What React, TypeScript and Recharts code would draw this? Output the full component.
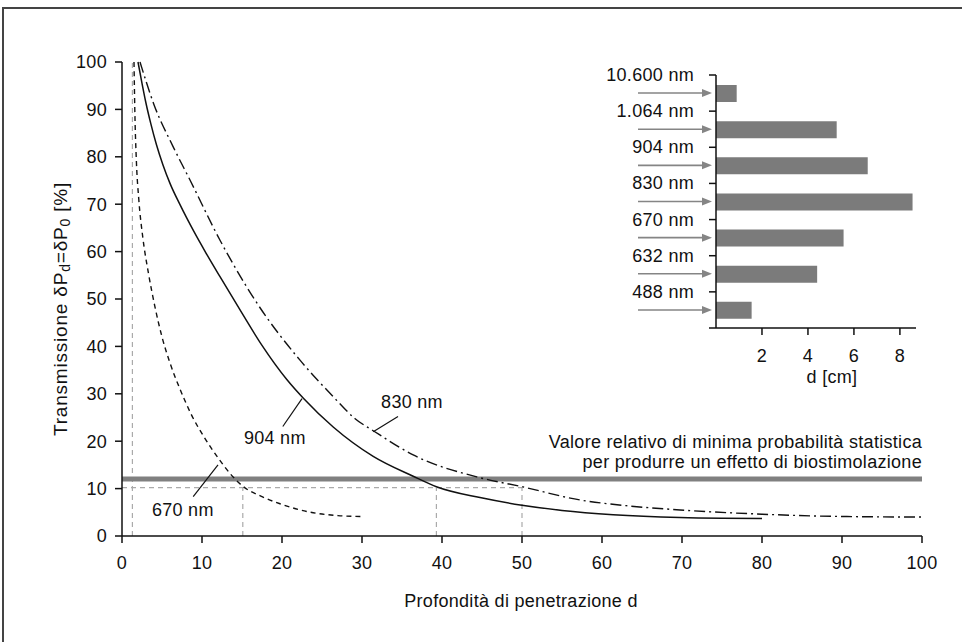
import { Bar, BarChart, Line, LineChart, ReferenceDot, ReferenceLine, XAxis, YAxis } from 'recharts'

const FONT = '"Liberation Sans", Arial, Helvetica, sans-serif'
const INK = '#111'

// curva 670 nm (tratteggiata)
const depth670 = [1.5, 1.6, 1.8, 2.1, 2.6, 3.3, 4.1, 5, 6, 7.25, 8.7, 10.4, 12, 13.5, 15.1, 17.5, 19.75, 23.9, 27, 30]
const trans670 = [100, 90, 79, 71, 63, 55.5, 48.5, 42, 36.5, 31, 25.5, 20.5, 16.5, 13.2, 10.5, 8.3, 6.8, 4.9, 4.3, 4.1]

// curva 904 nm (continua)
const depth904 = [2, 2.5, 3, 3.6, 4.3, 5.1, 6, 7.25, 9, 10.5, 12.25, 15, 17.5, 20.6, 22.7, 26.4, 31.4, 36.4, 39.3, 44.75, 50, 55, 61.4, 69.75, 75, 80]
const trans904 = [100, 95.5, 91.3, 87, 82.6, 78.4, 74.4, 69.9, 64.2, 59.7, 54.7, 47, 40.2, 33, 29, 23, 16.8, 12.6, 10.4, 8.1, 6.5, 5.4, 4.5, 3.9, 3.75, 3.7]

// curva 830 nm (tratto-punto)
const depth830 = [2.25, 4, 6.4, 8.5, 12.25, 17, 22.25, 26.4, 29.1, 31.6, 36.4, 44.75, 50, 57.25, 63, 69.75, 80, 90.6, 100]
const trans830 = [100, 91, 82.1, 75.1, 62.4, 48.8, 37.1, 29.4, 24.8, 22.0, 17.1, 12.3, 10.4, 7.6, 6.4, 5.5, 4.6, 4.1, 4.0]

const X_TICKS = [0, 10, 20, 30, 40, 50, 60, 70, 80, 90, 100]
const Y_TICKS = [0, 10, 20, 30, 40, 50, 60, 70, 80, 90, 100]

const THRESHOLD = 12
const TEN_PERCENT = 10.2
const START_X = 1.3
const CROSS_X = [15.1, 39.3, 50]

// inserto: profondità di penetrazione per lunghezza d'onda
const waveLabels = ['10.600 nm', '1.064 nm', '904 nm', '830 nm', '670 nm', '632 nm', '488 nm']
const waveDepth = [0.9, 5.25, 6.6, 8.55, 5.55, 4.4, 1.55]
const INSET_TICKS = [2, 4, 6, 8]

const toRows = (xs: number[], ys: number[]) => xs.map((x, i) => ({ x, t: ys[i] }))
const rows670 = toRows(depth670, trans670)
const rows904 = toRows(depth904, trans904)
const rows830 = toRows(depth830, trans830)
const insetRows = waveLabels.map((label, i) => ({ label, depth: waveDepth[i] }))

const INSET_W = 340
const INSET_H = 340
const INSET_MARGIN = { top: 15, right: 24, bottom: 12, left: 6 }
const INSET_YAXIS_W = 110
const INSET_XAXIS_H = 60
const INSET_AXIS_X = INSET_MARGIN.left + INSET_YAXIS_W
const INSET_BAND = (INSET_H - INSET_MARGIN.top - INSET_MARGIN.bottom - INSET_XAXIS_H) / waveLabels.length

function InsetTick(props: any) {
  const { y, payload, index } = props
  const top = y - INSET_BAND / 2
  const last = index === waveLabels.length - 1
  return (
    <g>
      <line x1={INSET_AXIS_X - 7} x2={INSET_AXIS_X} y1={top} y2={top} stroke={INK} strokeWidth={1.5} />
      {last && (
        <line x1={INSET_AXIS_X - 7} x2={INSET_AXIS_X} y1={y + INSET_BAND / 2} y2={y + INSET_BAND / 2} stroke={INK} strokeWidth={1.5} />
      )}
      <text x={INSET_AXIS_X - 22} y={top} textAnchor="end" dominantBaseline="central" fontSize={18} fill={INK}>
        {payload.value}
      </text>
      <line x1={38} x2={103} y1={y} y2={y} stroke="#858585" strokeWidth={1.6} />
      <polygon points={`${INSET_AXIS_X - 4},${y} ${INSET_AXIS_X - 14},${y - 4} ${INSET_AXIS_X - 14},${y + 4}`} fill="#858585" />
    </g>
  )
}

export default function App() {
  const axisProps = {
    stroke: INK,
    strokeWidth: 1.5,
    tick: { fill: INK, fontSize: 18 },
    tickSize: 7,
  }
  return (
    <div style={{ position: 'absolute', left: 0, top: 0, width: 962, height: 642, background: '#fff', fontFamily: FONT, letterSpacing: '0.3px', overflow: 'hidden' }}>
      <div style={{ position: 'absolute', left: 2, top: 7, width: 980, height: 660, borderLeft: '2px solid #444', borderTop: '2px solid #444' }} />

      <div style={{ position: 'absolute', left: 0, top: 0 }}>
        <LineChart width={962} height={642} margin={{ top: 62, right: 40, bottom: 76, left: 62 }}>
          <XAxis type="number" dataKey="x" domain={[0, 100]} ticks={X_TICKS} height={30} tickMargin={13} {...axisProps} />
          <YAxis type="number" domain={[0, 100]} ticks={Y_TICKS} width={60} tickMargin={8} {...axisProps} />

          <ReferenceLine segment={[{ x: START_X, y: 0 }, { x: START_X, y: 100 }]} stroke="#aaa" strokeDasharray="5 4" strokeWidth={1.2} />
          <ReferenceLine segment={[{ x: 0, y: TEN_PERCENT }, { x: 50, y: TEN_PERCENT }]} stroke="#aaa" strokeDasharray="5 4" strokeWidth={1.2} />
          {CROSS_X.map((cx) => (
            <ReferenceLine key={cx} segment={[{ x: cx, y: 0 }, { x: cx, y: TEN_PERCENT }]} stroke="#aaa" strokeDasharray="5 4" strokeWidth={1.2} />
          ))}
          <ReferenceLine y={THRESHOLD} stroke="#808080" strokeWidth={5} />

          <Line data={rows670} dataKey="t" type="monotone" dot={false} stroke={INK} strokeWidth={1.4} strokeDasharray="5 4" isAnimationActive={false} />
          <Line data={rows904} dataKey="t" type="monotone" dot={false} stroke={INK} strokeWidth={1.5} isAnimationActive={false} />
          <Line data={rows830} dataKey="t" type="monotone" dot={false} stroke={INK} strokeWidth={1.4} strokeDasharray="11 4 2 4" isAnimationActive={false} />

          {/* linee di richiamo */}
          <ReferenceLine segment={[{ x: 22.5, y: 29.0 }, { x: 20.1, y: 23.1 }]} stroke={INK} strokeWidth={1.2} />
          <ReferenceLine segment={[{ x: 34.5, y: 25.2 }, { x: 31.4, y: 22.0 }]} stroke={INK} strokeWidth={1.2} />
          <ReferenceLine segment={[{ x: 8.9, y: 8.3 }, { x: 12.0, y: 15.0 }]} stroke={INK} strokeWidth={1.2} />
          <ReferenceDot x={19.1} y={20.7} r={0} label={{ value: '904 nm', position: 'center', fill: INK, fontSize: 18 }} />
          <ReferenceDot x={36.25} y={28.3} r={0} label={{ value: '830 nm', position: 'center', fill: INK, fontSize: 18 }} />
          <ReferenceDot x={7.6} y={5.5} r={0} label={{ value: '670 nm', position: 'center', fill: INK, fontSize: 18 }} />
        </LineChart>
      </div>

      <div style={{ position: 'absolute', left: 600, top: 60 }}>
        <BarChart width={INSET_W} height={INSET_H} layout="vertical" data={insetRows} margin={INSET_MARGIN} barSize={17}>
          <XAxis type="number" dataKey="depth" domain={[0, 8.7]} ticks={INSET_TICKS} height={INSET_XAXIS_H} tickMargin={14} {...axisProps} />
          <YAxis type="category" dataKey="label" width={INSET_YAXIS_W} interval={0} tickLine={false} stroke={INK} strokeWidth={1.5} tick={<InsetTick />} />
          <Bar dataKey="depth" fill="#7b7b7b" isAnimationActive={false} />
        </BarChart>
      </div>

      <svg width={962} height={642} style={{ position: 'absolute', left: 0, top: 0, pointerEvents: 'none' }} fontFamily={FONT} fill={INK} fontSize={18}>
        <text x={60} y={309} transform="rotate(-90 60 309)" textAnchor="middle" dominantBaseline="central" fontSize={19} letterSpacing="0.8px">
          Transmissione δP<tspan fontSize={14} dy={5}>d</tspan>
          <tspan dy={-5}>=δP</tspan>
          <tspan fontSize={14} dy={5}>0</tspan>
          <tspan dy={-5}> [%]</tspan>
        </text>
        <text x={521} y={601} textAnchor="middle" dominantBaseline="central">Profondità di penetrazione d</text>
        <text x={832} y={377} textAnchor="middle" dominantBaseline="central">d [cm]</text>
        <text x={922} y={442} textAnchor="end" dominantBaseline="central">Valore relativo di minima probabilità statistica</text>
        <text x={922} y={462} textAnchor="end" dominantBaseline="central">per produrre un effetto di biostimolazione</text>
      </svg>
    </div>
  )
}
